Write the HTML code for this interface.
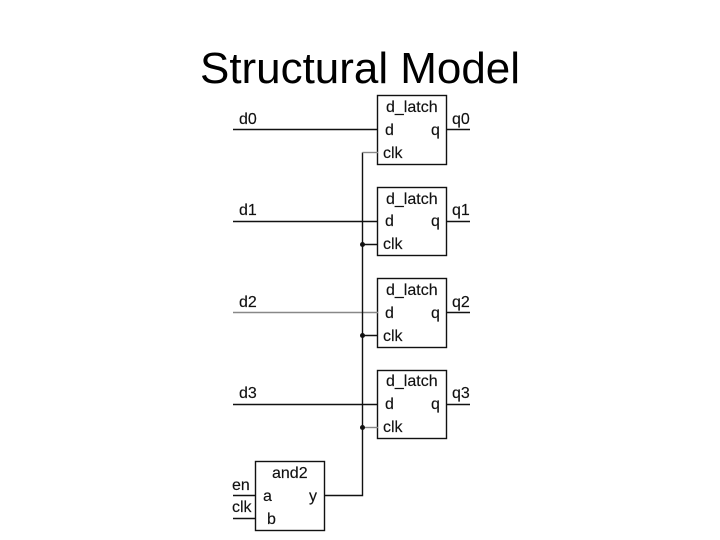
<!DOCTYPE html>
<html><head><meta charset="utf-8"><style>
html,body{margin:0;padding:0;background:#fff}
svg{display:block}
text{font-family:"Liberation Sans",sans-serif;fill:#111}
.l{font-size:16px;stroke:#111;stroke-width:.15px}
</style></head><body>
<svg width="720" height="540" viewBox="0 0 720 540">
<text x="360" y="83" text-anchor="middle" font-size="44" style="fill:#000" textLength="320" lengthAdjust="spacingAndGlyphs">Structural Model</text>
<g stroke="#111" stroke-width="1.4" fill="none">
<rect x="377.500" y="95.500" width="69" height="69"/>
<rect x="377.500" y="187.500" width="69" height="68"/>
<rect x="377.500" y="278.500" width="69" height="69"/>
<rect x="377.500" y="370.500" width="69" height="68"/>
<rect x="255.500" y="461.500" width="69" height="69"/>
<path d="M233 129.500H378M447 129.500H470" stroke-width="1.6"/>
<path d="M233 221.500H378M447 221.500H470"/>
<path d="M233 312.500H378" stroke="#888"/>
<path d="M447 312.500H470"/>
<path d="M233 404.500H378M447 404.500H470"/>
<path d="M362.500 152.500V495.500H325"/>
<path d="M362.500 152.500H378" stroke="#888"/>
<path d="M362 244.500H378M362 335.500H378"/>
<path d="M362 427.500H378" stroke="#888"/>
<path d="M233 495.500H256M233 518.500H256"/>
</g>
<g fill="#111">
<circle cx="362.500" cy="244.500" r="2.500"/>
<circle cx="362.500" cy="335.500" r="2.500"/>
<circle cx="362.500" cy="427.500" r="2.500"/>
</g>
<g>
<text class="l" x="239" y="124">d0</text><text class="l" x="239" y="215">d1</text><text class="l" x="239" y="307">d2</text><text class="l" x="239" y="398">d3</text>
<text class="l" x="452" y="124">q0</text><text class="l" x="452" y="215">q1</text><text class="l" x="452" y="307">q2</text><text class="l" x="452" y="398">q3</text>
<text class="l" x="386" y="112">d_latch</text><text class="l" x="386" y="204">d_latch</text><text class="l" x="386" y="295">d_latch</text><text class="l" x="386" y="386">d_latch</text>
<text class="l" x="385" y="135">d</text><text class="l" x="385" y="226">d</text><text class="l" x="385" y="318">d</text><text class="l" x="385" y="409">d</text>
<text class="l" x="431" y="135">q</text><text class="l" x="431" y="226">q</text><text class="l" x="431" y="318">q</text><text class="l" x="431" y="409">q</text>
<text class="l" x="383" y="158">clk</text><text class="l" x="383" y="249">clk</text><text class="l" x="383" y="341">clk</text><text class="l" x="383" y="432">clk</text>
<text class="l" x="272" y="478">and2</text>
<text class="l" x="232" y="490">en</text><text class="l" x="232" y="512">clk</text>
<text class="l" x="263" y="501">a</text><text class="l" x="267" y="524">b</text><text class="l" x="309" y="501">y</text>
</g>
</svg>
</body></html>
